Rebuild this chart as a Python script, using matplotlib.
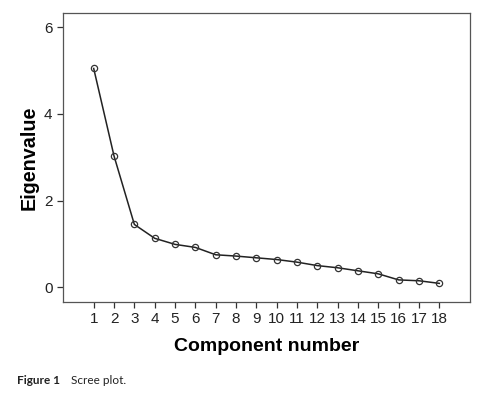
import matplotlib
matplotlib.use("Agg")
import matplotlib.pyplot as plt

# scree plot values
components = list(range(1, 19))
eigenvalues = [5.05, 3.03, 1.45, 1.13, 0.99, 0.92, 0.75, 0.72, 0.68,
               0.64, 0.58, 0.50, 0.45, 0.38, 0.31, 0.17, 0.15, 0.09]
yticks = [0, 2, 4, 6]

plt.rcParams['font.family'] = ['Liberation Sans', 'DejaVu Sans']

fig = plt.figure(figsize=(4.81, 3.96), dpi=100)
ax = fig.add_axes([63/481, 1 - 302/396, (470 - 63)/481, (302 - 13)/396])

ax.plot(components, eigenvalues, color='#222222', lw=1.1,
        marker='o', ms=4.5, mfc='none', mec='#333333', mew=0.9)

ax.set_xlim(-0.51, 19.51)
ax.set_ylim(-0.34, 6.33)
ax.set_xticks(components)
ax.set_yticks(yticks)
ax.tick_params(labelsize=11, colors='#333333', labelcolor='#222222',
               length=4, width=0.9)
ax.tick_params(axis='x', pad=3)
for s in ax.spines.values():
    s.set_color('#555555')
    s.set_linewidth(0.9)

ax.set_xlabel('Component number', fontsize=14, fontweight='bold',
              labelpad=9)
ax.set_ylabel('Eigenvalue', fontsize=14.2, fontweight='bold', labelpad=4)

fig.text(17/481, 1 - 380/396, 'Figure 1', fontsize=8.5, fontweight='bold',
         family=['Lato', 'DejaVu Sans'], va='center', color='#222222')
fig.text(71/481, 1 - 380/396, 'Scree plot.', fontsize=8.5,
         family=['Lato', 'DejaVu Sans'], va='center', color='#222222')

fig.savefig('out.png', dpi=100)
